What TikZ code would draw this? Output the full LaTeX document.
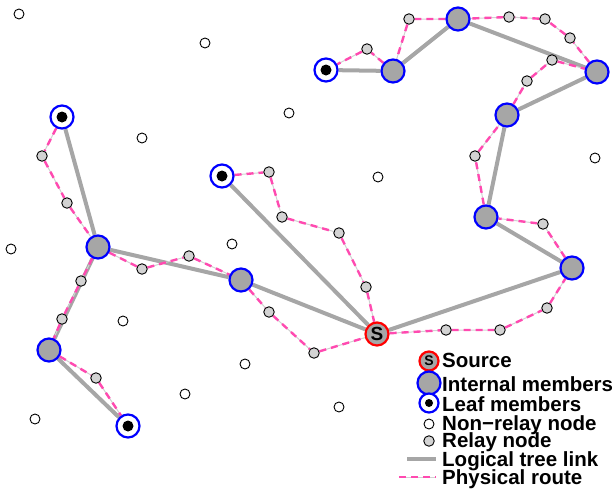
\documentclass[tikz,border=0pt]{standalone}
\usepackage{fontspec}
\setmainfont{Liberation Sans}
\usetikzlibrary{backgrounds}
\definecolor{intfill}{HTML}{A6A6A6}
\definecolor{relfill}{HTML}{D3D3D3}
\definecolor{linkgray}{HTML}{A6A6A6}
\definecolor{routepink}{HTML}{FF4AB0}
\definecolor{memblue}{HTML}{0000FF}
\definecolor{srcred}{HTML}{FF0000}
\begin{document}
\begin{tikzpicture}[x=1pt,y=-1pt,
 member/.style={circle,draw=memblue,line width=2.2pt,minimum size=23pt,inner sep=0pt},
 internal/.style={member,fill=intfill},
 leaf/.style={member,fill=white,path picture={\fill[black] (path picture bounding box.center) circle (5.5pt);}},
 source/.style={circle,draw=srcred,line width=2.2pt,fill=intfill,minimum size=23pt,inner sep=0pt,font=\fontsize{19}{19}\selectfont\bfseries},
 relay/.style={circle,draw=black,line width=0.9pt,fill=relfill,minimum size=10.5pt,inner sep=0pt},
 nonrelay/.style={circle,draw=black,line width=0.9pt,fill=white,minimum size=10pt,inner sep=0pt},
 tree/.style={draw=linkgray,line width=4pt},
 route/.style={draw=routepink,line width=2.4pt,dash pattern=on 7pt off 5pt,preaction={draw=black!18,line width=1pt,solid}},
 legtext/.style={anchor=base west,inner sep=0pt,font=\fontsize{20.5}{20.5}\selectfont\bfseries}
]
\useasboundingbox (0,0) rectangle (616,488);

% non-relay nodes
\foreach \x/\y [count=\i] in {19/14,205/43,142/138,289/113,378/177,595/158,11/249,232/244,123/321,245/364,185/394,35/419,339/407}
  \node[nonrelay] (n\i) at (\x,\y) {};

% relay nodes
\node[relay] (r1) at (42,156) {};
\node[relay] (r2) at (67,203) {};
\node[relay] (r3) at (81,281) {};
\node[relay] (r4) at (62,319) {};
\node[relay] (r5) at (96,378) {};
\node[relay] (r6) at (142,269) {};
\node[relay] (r7) at (189,256) {};
\node[relay] (r8) at (269,312) {};
\node[relay] (r9) at (314,353) {};
\node[relay] (r10) at (269,172) {};
\node[relay] (r11) at (282,217) {};
\node[relay] (r12) at (339,233) {};
\node[relay] (r13) at (366,287) {};
\node[relay] (r14) at (446,330) {};
\node[relay] (r15) at (500,330) {};
\node[relay] (r16) at (547,308) {};
\node[relay] (r17) at (543,224) {};
\node[relay] (r18) at (475,156) {};
\node[relay] (r19) at (527,81) {};
\node[relay] (r20) at (552,60) {};
\node[relay] (r21) at (570,38) {};
\node[relay] (r22) at (545,19) {};
\node[relay] (r23) at (509,17) {};
\node[relay] (r24) at (409,19) {};
\node[relay] (r25) at (367,49) {};

% members
\node[source] (S) at (377,334) {S};
\node[internal] (i1) at (98,247) {};
\node[internal] (i2) at (241,280) {};
\node[internal] (i3) at (49,350) {};
\node[internal] (i4) at (393,71) {};
\node[internal] (i5) at (458,19) {};
\node[internal] (i6) at (597,72) {};
\node[internal] (i7) at (507,115) {};
\node[internal] (i8) at (486,217) {};
\node[internal] (i9) at (572,268) {};
\node[leaf] (l1) at (62,117) {};
\node[leaf] (l2) at (222,176) {};
\node[leaf] (l3) at (128,426) {};
\node[leaf] (l4) at (326,70) {};

\begin{scope}[on background layer]
  % logical tree links
  \draw[tree] (l1) -- (i1);
  \draw[tree] (i1) -- (i3);
  \draw[tree] (i3) -- (l3);
  \draw[tree] (i1) -- (i2);
  \draw[tree] (i2) -- (S);
  \draw[tree] (l2) -- (S);
  \draw[tree] (S) -- (i9);
  \draw[tree] (i9) -- (i8);
  \draw[tree] (i8) -- (i7);
  \draw[tree] (i7) -- (i6);
  \draw[tree] (i6) -- (i5);
  \draw[tree] (i5) -- (i4);
  \draw[tree] (i4) -- (l4);
  % physical routes
  \draw[route] (l1) -- (r1) -- (r2) -- (i1);
  \draw[route] (i1) -- (r3) -- (r4) -- (i3);
  \draw[route] (i3) -- (r5) -- (l3);
  \draw[route] (i1) -- (r6) -- (r7) -- (i2);
  \draw[route] (i2) -- (r8) -- (r9) -- (S);
  \draw[route] (l2) -- (r10) -- (r11) -- (r12) -- (r13) -- (S);
  \draw[route] (S) -- (r14) -- (r15) -- (r16) -- (i9);
  \draw[route] (i9) -- (r17) -- (i8);
  \draw[route] (i8) -- (r18) -- (i7);
  \draw[route] (i7) -- (r19) -- (r20) -- (i6);
  \draw[route] (i6) -- (r21) -- (r22) -- (r23) -- (i5);
  \draw[route] (i5) -- (r24) -- (i4);
  \draw[route] (i4) -- (r25) -- (l4);
\end{scope}

% legend
\node[source,minimum size=19pt,font=\fontsize{14}{14}\selectfont\bfseries] (kS) at (429,361) {S};
\node[legtext] (tS) at (442,367) {Source};
\node[internal] (kI) at (429,383) {};
\node[legtext] (tI) at (442,391) {Internal members};
\node[member,fill=white,minimum size=19pt,path picture={\fill[black] (path picture bounding box.center) circle (4pt);}] (kL) at (429,403) {};
\node[legtext] (tL) at (442,411) {Leaf members};
\node[nonrelay] (kN) at (429,424) {};
\node[legtext] (tN) at (442,430) {Non−relay node};
\node[relay] (kR) at (429,441) {};
\node[legtext] (tR) at (442,447) {Relay node};
\coordinate (kTa) at (407,459);
\coordinate (kTb) at (436,459);
\draw[tree] (kTa) -- (kTb);
\node[legtext] (tT) at (442,466) {Logical tree link};
\coordinate (kPa) at (399,477);
\coordinate (kPb) at (436,477);
\draw[route] (kPa) -- (kPb);
\node[legtext] (tP) at (442,484) {Physical route};
\end{tikzpicture}
\end{document}
